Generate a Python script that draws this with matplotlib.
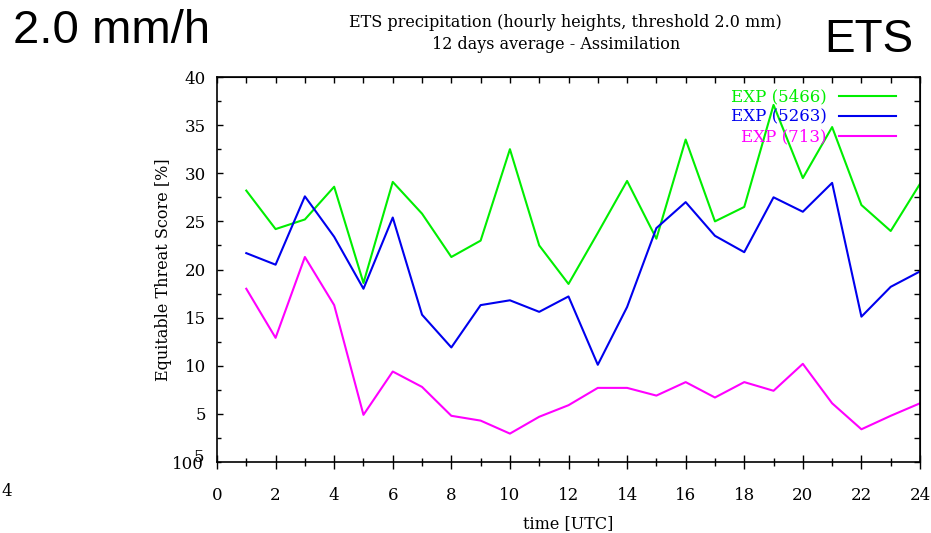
import matplotlib
matplotlib.use('Agg')
from matplotlib import pyplot as plt
from matplotlib.ticker import MultipleLocator

hours = list(range(1, 25))
exp_5466 = [28.2, 24.2, 25.2, 28.6, 18.6, 29.1, 25.8, 21.3, 23.0, 32.5, 22.5, 18.5,
            23.8, 29.2, 23.2, 33.5, 25.0, 26.5, 37.1, 29.5, 34.8, 26.7, 24.0, 28.9]
exp_5263 = [21.7, 20.5, 27.6, 23.4, 18.0, 25.4, 15.3, 11.9, 16.3, 16.8, 15.6, 17.2,
            10.1, 16.1, 24.3, 27.0, 23.5, 21.8, 27.5, 26.0, 29.0, 15.1, 18.2, 19.8]
exp_713 = [18.0, 12.9, 21.3, 16.3, 4.9, 9.4, 7.8, 4.8, 4.3, 2.95, 4.7, 5.9,
           7.7, 7.7, 6.9, 8.3, 6.7, 8.3, 7.4, 10.2, 6.1, 3.4, 4.8, 6.1]
labels = ['EXP (5466)', 'EXP (5263)', 'EXP (713)']
colors = ['#00ee00', '#0000ee', '#ff00ff']
yticks = [5, 10, 15, 20, 25, 30, 35, 40]

serif = 'DejaVu Serif'

fig = plt.figure(figsize=(9.31, 5.33), dpi=100)
ax = fig.add_axes([217/931, 1 - 462/533, 703/931, 385/533])

for ys, lab, c in zip([exp_5466, exp_5263, exp_713], labels, colors):
    ax.plot(hours, ys, color=c, lw=1.5, label=lab)

ax.set_xlim(0, 24)
ax.set_ylim(0, 40)
ax.xaxis.set_major_locator(MultipleLocator(2))
ax.xaxis.set_minor_locator(MultipleLocator(1))
ax.set_yticks(yticks)
ax.yaxis.set_minor_locator(MultipleLocator(2.5))
ax.tick_params(axis='x', which='major', direction='inout', length=10, width=1,
               pad=13, labelsize=12)
ax.tick_params(axis='x', which='minor', direction='inout', length=6, width=1)
ax.tick_params(axis='y', which='major', direction='in', length=4, width=1,
               pad=8, labelsize=12)
ax.tick_params(axis='y', which='minor', direction='in', length=3, width=1)
for lbl in ax.get_xticklabels() + ax.get_yticklabels():
    lbl.set_family(serif)
# overlapping "100" and "5" at the bottom of the y axis, as in the source
ax.annotate('100', xy=(0, 0), xycoords=ax.get_yaxis_transform(),
            xytext=(-9.5, -1.5), textcoords='offset points', ha='right',
            va='center', fontsize=12, family=serif)
ax.annotate('5', xy=(0, 0), xycoords=ax.get_yaxis_transform(),
            xytext=(-9.5, 3), textcoords='offset points', ha='right',
            va='center', fontsize=12, family=serif)

top = ax.secondary_xaxis('top')
top.xaxis.set_major_locator(MultipleLocator(1))
top.tick_params(direction='in', length=4, width=1, labeltop=False)
right = ax.secondary_yaxis('right')
right.yaxis.set_major_locator(MultipleLocator(2.5))
right.tick_params(direction='in', length=4, width=1, labelright=False)

for s in ax.spines.values():
    s.set_linewidth(1.2)

ax.set_xlabel('time [UTC]', family=serif, fontsize=11.5, labelpad=8)
ax.set_ylabel('Equitable Threat Score [%]', family=serif, fontsize=11.5, labelpad=9)

leg = ax.legend(loc='upper right', bbox_to_anchor=(0.982, 1.0), markerfirst=False,
                frameon=False, labelcolor='linecolor', handlelength=3.4,
                handletextpad=0.75, labelspacing=0.18, borderaxespad=0.3,
                prop={'family': serif, 'size': 12})

fig.text(565/931, 1 - 22/533, 'ETS precipitation (hourly heights, threshold 2.0 mm)',
         ha='center', va='center', family=serif, fontsize=11.5)
fig.text(556/931, 1 - 45/533, '12 days average - Assimilation',
         ha='center', va='center', family=serif, fontsize=11.5)
fig.text(13/931, 1 - 31/533, '2.0 mm/h', ha='left', va='center',
         family='Liberation Sans', fontsize=34)
fig.text(913/931, 1 - 40/533, 'ETS', ha='right', va='center',
         family='Liberation Sans', fontsize=33)
fig.text(1/931, 1 - 492/533, '4', ha='left', va='center', family=serif, fontsize=12)

plt.savefig('out.png', dpi=100)
